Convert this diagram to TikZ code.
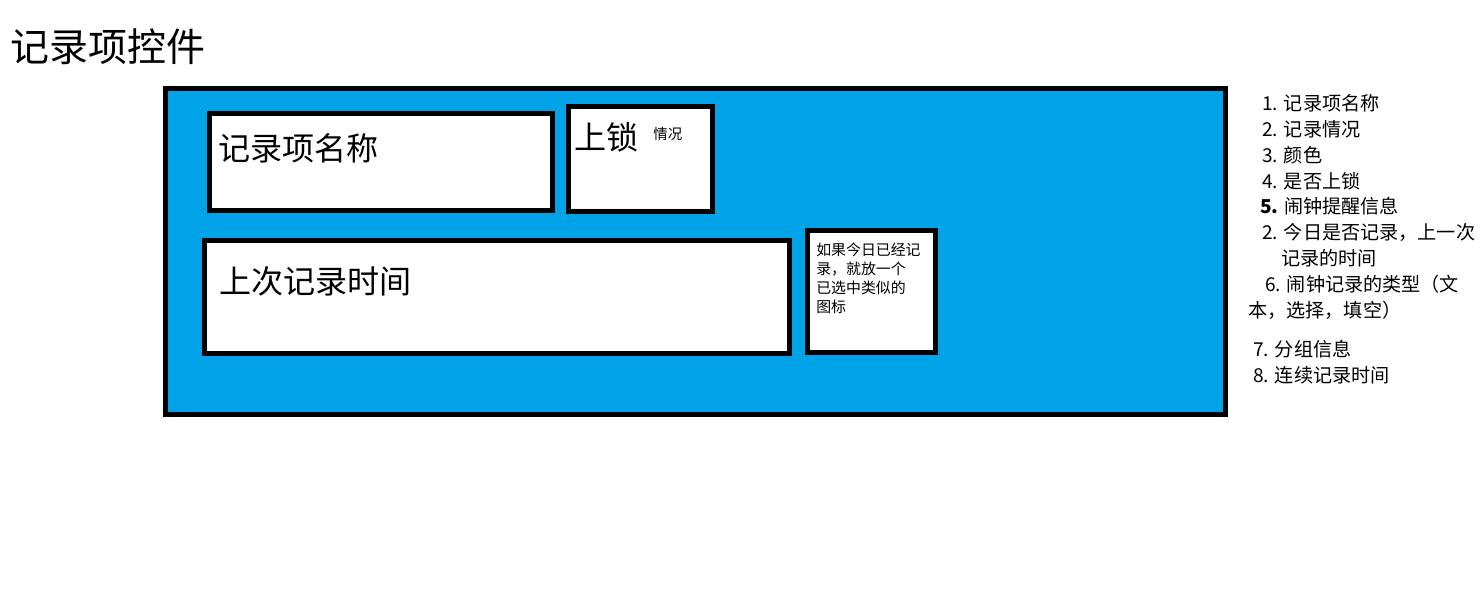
\documentclass[tikz,border=0pt]{standalone}
\usepackage{fontspec}
\setmainfont{Noto Sans CJK SC}
\definecolor{panelblue}{RGB}{0,162,232}

\tikzset{
  frame/.style={draw=black,line width=5*0.025cm},
  bigtext/.style={anchor=west,inner sep=0pt,font=\fontsize{22.8pt}{26pt}\selectfont},
  smalltext/.style={anchor=west,inner sep=0pt,font=\fontsize{10.3pt}{12pt}\selectfont},
  listitem/.style={anchor=west,inner sep=0pt,font=\fontsize{13.6pt}{16pt}\selectfont}
}

\begin{document}
\begin{tikzpicture}[x=0.025cm,y=-0.025cm]
  \useasboundingbox (0,0) rectangle (1480,601);
  % title
  \node[anchor=west,inner sep=0pt,font=\fontsize{27.7pt}{32pt}\selectfont] (title) at (10,47) {记录项控件};
  % control panel
  \draw[frame,fill=panelblue] (165.5,88.5) rectangle (1225.5,414.5);
  \draw[frame,fill=white] (209.5,113.5) rectangle (552.5,210.5);
  \draw[frame,fill=white] (568.5,106.5) rectangle (712.5,211.5);
  \draw[frame,fill=white] (204.5,240.5) rectangle (789.5,353.5);
  \draw[frame,fill=white] (807.5,230.5) rectangle (935.5,352.5);
  \node[bigtext] (name) at (218,148) {记录项名称};
  \node[bigtext] (lock) at (574,137) {上锁};
  \node[smalltext] (state) at (653,134) {情况};
  \node[bigtext] (last) at (219,281) {上次记录时间};
  \node[anchor=north west,inner sep=0pt,align=left,
        font=\fontsize{10.6pt}{13.5pt}\selectfont] (done) at (816,243)
        {如果今日已经记\\录，就放一个\\已选中类似的\\图标};
  % feature list
  \node[listitem] (f1) at (1262,103) {1. 记录项名称};
  \node[listitem] (f2) at (1262,129) {2. 记录情况};
  \node[listitem] (f3) at (1262,155) {3. 颜色};
  \node[listitem] (f4) at (1262,181) {4. 是否上锁};
  \node[listitem] (f5) at (1260,206) {\textbf{5.} 闹钟提醒信息};
  \node[listitem] (f6) at (1262,232) {2. 今日是否记录，上一次};
  \node[listitem] (f6b) at (1281,258) {记录的时间};
  \node[listitem] (f7) at (1265,284) {6. 闹钟记录的类型（文};
  \node[listitem] (f7b) at (1248,310) {本，选择，填空）};
  \node[listitem] (f8) at (1253,349) {7. 分组信息};
  \node[listitem] (f9) at (1253,375) {8. 连续记录时间};
\end{tikzpicture}
\end{document}
